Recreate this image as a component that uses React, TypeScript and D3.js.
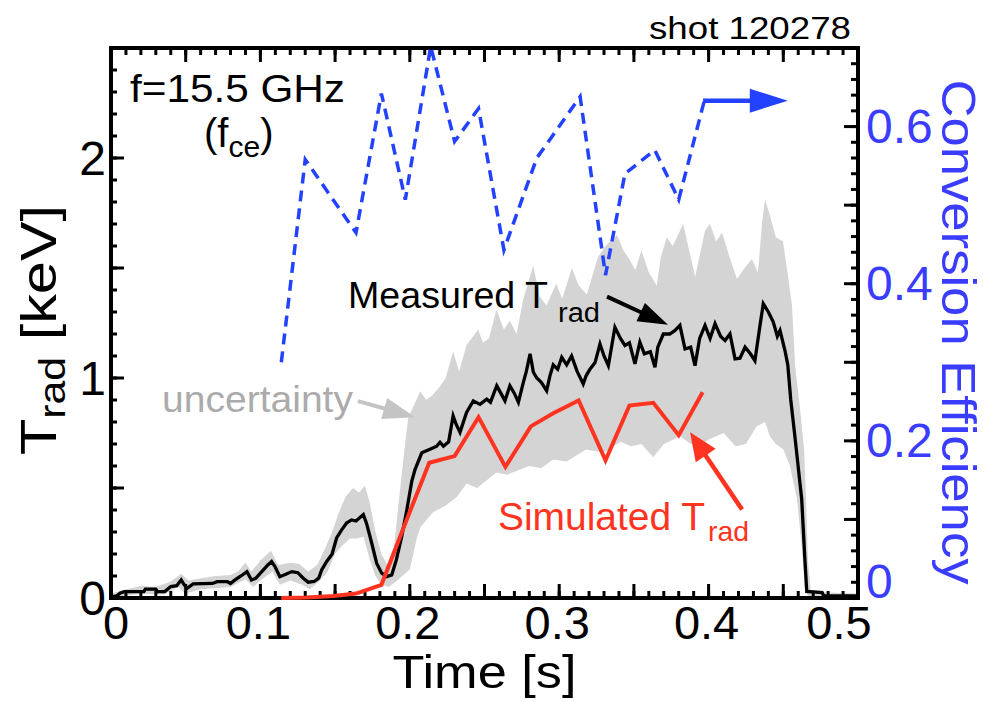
import React from "react";
import * as d3 from "d3";

// ---- data -----------------------------------------------------------------
// Measured radiation temperature T_rad [keV] vs time [s]
const measured: [number, number][] = [
  [0.0, 0.005], [0.004, 0.01], [0.006, 0.022], [0.009, 0.029], [0.022, 0.029],
  [0.023, 0.04], [0.03, 0.04], [0.031, 0.029], [0.036, 0.029], [0.04, 0.052],
  [0.044, 0.056], [0.047, 0.082], [0.049, 0.06], [0.051, 0.044], [0.055, 0.064],
  [0.068, 0.066], [0.071, 0.074], [0.078, 0.074], [0.08, 0.066], [0.083, 0.082],
  [0.087, 0.1], [0.091, 0.12], [0.094, 0.082], [0.097, 0.09], [0.102, 0.128],
  [0.105, 0.15], [0.1075, 0.166], [0.11, 0.14], [0.113, 0.097], [0.117, 0.108],
  [0.121, 0.12], [0.125, 0.115], [0.1287, 0.09], [0.132, 0.072], [0.136, 0.075],
  [0.139, 0.09], [0.141, 0.128], [0.1444, 0.166], [0.148, 0.2], [0.151, 0.273],
  [0.1544, 0.31], [0.1577, 0.341], [0.161, 0.355], [0.164, 0.35], [0.1689, 0.379],
  [0.171, 0.34], [0.1745, 0.25], [0.1778, 0.158], [0.1812, 0.113], [0.1845, 0.097],
  [0.1879, 0.105], [0.191, 0.174], [0.1946, 0.28], [0.198, 0.4], [0.2013, 0.53],
  [0.2035, 0.584], [0.208, 0.66], [0.2135, 0.676], [0.218, 0.69], [0.2202, 0.708],
  [0.2225, 0.69], [0.226, 0.71], [0.229, 0.828], [0.231, 0.79], [0.2336, 0.753],
  [0.238, 0.843], [0.2425, 0.896], [0.247, 0.88], [0.2515, 0.904], [0.254, 0.89],
  [0.2582, 0.965], [0.261, 0.93], [0.2637, 0.896], [0.267, 0.965], [0.27, 0.93],
  [0.2727, 0.89], [0.276, 0.98], [0.278, 1.03], [0.2805, 1.11], [0.2827, 1.026],
  [0.285, 1.0], [0.288, 0.98], [0.2916, 0.942], [0.2938, 1.01], [0.296, 1.06],
  [0.299, 1.04], [0.3017, 1.094], [0.305, 1.06], [0.3083, 1.1], [0.312, 1.03],
  [0.3161, 0.973], [0.318, 1.01], [0.3206, 1.04], [0.324, 1.07], [0.3273, 1.155],
  [0.33, 1.1], [0.3329, 1.056], [0.3373, 1.231], [0.341, 1.18], [0.344, 1.148],
  [0.347, 1.16], [0.3507, 1.064], [0.354, 1.163], [0.357, 1.11], [0.361, 1.12],
  [0.3641, 1.049], [0.366, 1.14], [0.3697, 1.2], [0.374, 1.2], [0.3775, 1.216],
  [0.3808, 1.239], [0.3842, 1.132], [0.388, 1.14], [0.3909, 1.056], [0.394, 1.18],
  [0.3976, 1.239], [0.401, 1.18], [0.4043, 1.247], [0.408, 1.19], [0.411, 1.17],
  [0.4143, 1.2], [0.4177, 1.087], [0.421, 1.09], [0.4244, 1.14], [0.428, 1.11],
  [0.431, 1.079], [0.4344, 1.239], [0.4366, 1.338], [0.44, 1.3], [0.4433, 1.254],
  [0.446, 1.19], [0.4478, 1.216], [0.4511, 1.125], [0.453, 1.06], [0.455, 0.9],
  [0.458, 0.72], [0.4623, 0.45], [0.4645, 0.17], [0.4657, 0.03], [0.476, 0.025],
  [0.477, 0.01], [0.5, 0.01],
];

// Upper edge of the uncertainty band [keV]
const bandUpper: [number, number][] = [
  [0.0, 0.02], [0.005, 0.03], [0.01, 0.04], [0.02, 0.055], [0.03, 0.05],
  [0.04, 0.075], [0.047, 0.11], [0.052, 0.08], [0.06, 0.09], [0.07, 0.1],
  [0.08, 0.105], [0.085, 0.12], [0.09, 0.16], [0.094, 0.12], [0.1, 0.17],
  [0.107, 0.215], [0.112, 0.15], [0.12, 0.16], [0.126, 0.155], [0.132, 0.12],
  [0.138, 0.15], [0.143, 0.22], [0.148, 0.3], [0.152, 0.38], [0.157, 0.46],
  [0.162, 0.5], [0.166, 0.48], [0.17, 0.51], [0.173, 0.44], [0.177, 0.3],
  [0.181, 0.2], [0.185, 0.15], [0.189, 0.2], [0.192, 0.4], [0.196, 0.65],
  [0.199, 0.82], [0.203, 0.88], [0.207, 0.94], [0.211, 0.9], [0.215, 0.92],
  [0.22, 0.96], [0.224, 1.0], [0.229, 1.12], [0.233, 1.03], [0.238, 1.15],
  [0.2458, 1.22], [0.249, 1.16], [0.253, 1.18], [0.258, 1.31], [0.263, 1.22],
  [0.267, 1.26], [0.2715, 1.2], [0.276, 1.36], [0.2826, 1.51], [0.287, 1.37],
  [0.2915, 1.33], [0.298, 1.43], [0.302, 1.36], [0.3085, 1.5], [0.313, 1.42],
  [0.3185, 1.38], [0.322, 1.46], [0.326, 1.55], [0.331, 1.6], [0.3387, 1.65],
  [0.343, 1.58], [0.347, 1.54], [0.351, 1.49], [0.355, 1.58], [0.36, 1.48],
  [0.3653, 1.42], [0.368, 1.55], [0.372, 1.64], [0.376, 1.6], [0.383, 1.7],
  [0.387, 1.58], [0.391, 1.46], [0.3976, 1.67], [0.401, 1.7], [0.405, 1.62],
  [0.409, 1.66], [0.414, 1.55], [0.419, 1.45], [0.424, 1.5], [0.429, 1.54],
  [0.433, 1.48], [0.436, 1.72], [0.4378, 1.81], [0.441, 1.74], [0.445, 1.64],
  [0.4498, 1.62], [0.453, 1.47], [0.4558, 1.33], [0.458, 1.05], [0.4612, 0.86],
  [0.4639, 0.68], [0.4652, 0.45], [0.4665, 0.17], [0.4685, 0.03], [0.48, 0.025],
  [0.5, 0.02],
];

// Lower edge of the uncertainty band [keV]
const bandLower: [number, number][] = [
  [0.0, 0.0], [0.01, 0.01], [0.02, 0.02], [0.035, 0.015], [0.045, 0.05],
  [0.05, 0.02], [0.06, 0.04], [0.08, 0.05], [0.09, 0.085], [0.095, 0.05],
  [0.102, 0.09], [0.108, 0.12], [0.113, 0.06], [0.12, 0.08], [0.128, 0.06],
  [0.133, 0.04], [0.14, 0.08], [0.145, 0.12], [0.15, 0.2], [0.155, 0.24],
  [0.16, 0.27], [0.165, 0.27], [0.169, 0.28], [0.173, 0.18], [0.177, 0.1],
  [0.181, 0.06], [0.186, 0.05], [0.19, 0.07], [0.195, 0.1], [0.2, 0.13],
  [0.203, 0.22], [0.205, 0.28], [0.207, 0.32], [0.2155, 0.39], [0.224, 0.42],
  [0.2316, 0.46], [0.238, 0.52], [0.245, 0.5], [0.258, 0.57], [0.265, 0.56],
  [0.28, 0.6], [0.288, 0.59], [0.296, 0.63], [0.305, 0.62], [0.318, 0.675],
  [0.33, 0.66], [0.341, 0.71], [0.348, 0.69], [0.355, 0.7], [0.363, 0.64],
  [0.37, 0.7], [0.381, 0.735], [0.388, 0.7], [0.394, 0.69], [0.4, 0.72],
  [0.41, 0.75], [0.418, 0.69], [0.425, 0.7], [0.432, 0.78], [0.4378, 0.8],
  [0.441, 0.735], [0.445, 0.7], [0.45, 0.675], [0.4545, 0.6], [0.4592, 0.45],
  [0.4625, 0.22], [0.4645, 0.04], [0.467, 0.005], [0.5, 0.0],
];

// Simulated T_rad [keV]
const simulated: [number, number][] = [
  [0.114, 0.0], [0.131, 0.002], [0.149, 0.009], [0.164, 0.02], [0.181, 0.06],
  [0.197, 0.34], [0.213, 0.615], [0.23, 0.645], [0.246, 0.822], [0.264, 0.596],
  [0.281, 0.78], [0.296, 0.84], [0.313, 0.898], [0.331, 0.626], [0.347, 0.875],
  [0.363, 0.887], [0.38, 0.74], [0.396, 0.935],
];

// Conversion efficiency (right axis)
const efficiency: [number, number][] = [
  [0.114, 0.3], [0.13, 0.558], [0.164, 0.465], [0.181, 0.642], [0.197, 0.507],
  [0.214, 0.702], [0.23, 0.581], [0.246, 0.623], [0.263, 0.443], [0.285, 0.56],
  [0.314, 0.638], [0.331, 0.411], [0.344, 0.54], [0.364, 0.57], [0.38, 0.507],
  [0.397, 0.632],
];

const xTickLabels = [0, 0.1, 0.2, 0.3, 0.4, 0.5];
const yLeftTickLabels = [0, 1, 2];
const yRightTickLabels = [0, 0.2, 0.4, 0.6];

// ---- layout ---------------------------------------------------------------
const W = 988;
const H = 702;
const L = 111;
const R = 858;
const T = 48;
const B = 598;
const FONT = "'Liberation Sans', Arial, Helvetica, sans-serif";
const BLUE = "#2242ff";
const BLUE_TEXT = "#3a3cff";
const RED = "#ff3420";
const GRAY_BAND = "#d4d4d4";

const x = d3.scaleLinear().domain([0, 0.5]).range([L, R]);
const y = d3.scaleLinear().domain([0, 2.5]).range([B, T]);
const yr = d3.scaleLinear().domain([0, 0.7]).range([B, T]);

function arrow(x1: number, y1: number, x2: number, y2: number, len: number, half: number) {
  const dx = x2 - x1;
  const dy = y2 - y1;
  const d = Math.hypot(dx, dy);
  const ux = dx / d;
  const uy = dy / d;
  const bx = x2 - ux * len;
  const by = y2 - uy * len;
  const px = -uy;
  const py = ux;
  return {
    shaft: [x1, y1, bx + ux * 2, by + uy * 2],
    head: `M${x2},${y2}L${bx + px * half},${by + py * half}L${bx - px * half},${by - py * half}Z`,
  };
}

function Arrow({ a, color, width }: { a: ReturnType<typeof arrow>; color: string; width: number }) {
  return (
    <g>
      <line x1={a.shaft[0]} y1={a.shaft[1]} x2={a.shaft[2]} y2={a.shaft[3]} stroke={color} strokeWidth={width} />
      <path d={a.head} fill={color} />
    </g>
  );
}

export default function App() {
  const lineL = d3
    .line<[number, number]>()
    .x((d) => x(d[0]))
    .y((d) => y(d[1]));
  const lineR = d3
    .line<[number, number]>()
    .x((d) => x(d[0]))
    .y((d) => yr(d[1]));

  const bandPath = lineL([...bandUpper, ...bandLower.slice().reverse()]) + "Z";

  const xMinor = x.ticks(50);
  const xMajor = x.ticks(10);
  const yMinor = y.ticks(25);
  const yMajor = y.ticks(5);
  const rMinor = yr.ticks(35);
  const rMajor = yr.ticks(7);

  const blackArrow = arrow(x(0.332), y(1.37), x(0.3728), y(1.242), 30, 10);
  const grayArrow = arrow(x(0.1653), y(0.895), x(0.2035), y(0.822), 32, 11);
  const redArrow = arrow(x(0.4224), y(0.402), x(0.3876), y(0.753), 28, 12);
  const blueArrow = arrow(x(0.3963), yr(0.633), x(0.453), yr(0.633), 38, 12);

  const fmt = (v: number) => (v === 0 ? "0" : String(+v.toFixed(2)));

  return (
    <svg
      width={W}
      height={H}
      viewBox={`0 0 ${W} ${H}`}
      style={{ position: "absolute", left: 0, top: 0, display: "block", background: "#fff" }}
      fontFamily={FONT}
    >
      <rect x={0} y={0} width={W} height={H} fill="#fff" />

      {/* uncertainty band */}
      <path d={bandPath} fill={GRAY_BAND} stroke="none" />

      {/* frame */}
      <rect x={L} y={T} width={R - L} height={B - T} fill="none" stroke="#000" strokeWidth={4} />

      {/* bottom & top ticks */}
      {xMinor.map((v) => (
        <g key={"xm" + v} stroke="#000" strokeWidth={3}>
          <line x1={x(v)} x2={x(v)} y1={B} y2={B - 7} />
          <line x1={x(v)} x2={x(v)} y1={T} y2={T + 7} />
        </g>
      ))}
      {xMajor.map((v) => (
        <g key={"xM" + v} stroke="#000" strokeWidth={3}>
          <line x1={x(v)} x2={x(v)} y1={B} y2={B - 14} />
          <line x1={x(v)} x2={x(v)} y1={T} y2={T + 14} />
        </g>
      ))}

      {/* left ticks */}
      {yMinor.map((v) => (
        <line key={"ym" + v} x1={L} x2={L + 6} y1={y(v)} y2={y(v)} stroke="#000" strokeWidth={3} />
      ))}
      {yMajor.map((v) => (
        <line key={"yM" + v} x1={L} x2={L + 13} y1={y(v)} y2={y(v)} stroke="#000" strokeWidth={3} />
      ))}

      {/* right ticks */}
      {rMinor.map((v) => (
        <line key={"rm" + v} x1={R} x2={R - 7} y1={yr(v)} y2={yr(v)} stroke="#000" strokeWidth={3} />
      ))}
      {rMajor.map((v) => (
        <line key={"rM" + v} x1={R} x2={R - 14} y1={yr(v)} y2={yr(v)} stroke="#000" strokeWidth={3} />
      ))}

      {/* measured trace */}
      <path d={lineL(measured) || ""} fill="none" stroke="#000" strokeWidth={3.3} />

      {/* simulated trace */}
      <path d={lineL(simulated) || ""} fill="none" stroke={RED} strokeWidth={4} />

      {/* conversion efficiency */}
      <path
        d={lineR(efficiency) || ""}
        fill="none"
        stroke={BLUE}
        strokeWidth={3.5}
        strokeDasharray="11 7"
      />

      {/* tick labels */}
      {xTickLabels.map((v, i) => (
        <text
          key={"xl" + v}
          x={x(v) + (i === 0 ? 5 : i === xTickLabels.length - 1 ? -19 : -2)}
          y={639}
          fontSize={47}
          textAnchor="middle"
          fill="#000"
        >
          {fmt(v)}
        </text>
      ))}
      {yLeftTickLabels.map((v) => (
        <text key={"yl" + v} x={106} y={y(v)} dy="0.36em" fontSize={48} textAnchor="end" fill="#000">
          {fmt(v)}
        </text>
      ))}
      {yRightTickLabels.map((v) => (
        <text
          key={"rl" + v}
          x={866}
          y={yr(v) + (v === 0 ? -17 : -1)}
          dy="0.36em"
          fontSize={48}
          textAnchor="start"
          fill={BLUE_TEXT}
        >
          {fmt(v)}
        </text>
      ))}

      {/* axis titles */}
      <text x={(L + R) / 2} y={688} fontSize={47} textAnchor="middle" fill="#000" textLength={184} lengthAdjust="spacingAndGlyphs">
        Time [s]
      </text>
      <text
        transform={`translate(56,330) rotate(-90)`}
        fontSize={50}
        textAnchor="middle"
        fill="#000"
        textLength={250}
        lengthAdjust="spacingAndGlyphs"
      >
        T
        <tspan fontSize={36} dy={9}>
          rad
        </tspan>
        <tspan dy={-9}> [keV]</tspan>
      </text>
      <text
        transform={`translate(942,332) rotate(90)`}
        fontSize={49}
        textAnchor="middle"
        fill={BLUE_TEXT}
        textLength={505}
        lengthAdjust="spacingAndGlyphs"
      >
        Conversion Efficiency
      </text>

      {/* header */}
      <text x={851} y={39} fontSize={31} textAnchor="end" fill="#000" textLength={202} lengthAdjust="spacingAndGlyphs">
        shot 120278
      </text>
      <text x={130} y={102} fontSize={39} fill="#000" textLength={215} lengthAdjust="spacingAndGlyphs">
        f=15.5 GHz
      </text>
      <text x={204} y={147} fontSize={40} fill="#000">
        (f
        <tspan fontSize={30} dy={10}>
          ce
        </tspan>
        <tspan dy={-10}>)</tspan>
      </text>

      {/* annotations */}
      <text x={348} y={308} fontSize={37} fill="#000" textLength={200} lengthAdjust="spacingAndGlyphs">
        Measured T
      </text>
      <text x={558} y={322} fontSize={27} fill="#000" textLength={42} lengthAdjust="spacingAndGlyphs">
        rad
      </text>
      <Arrow a={blackArrow} color="#000" width={4} />

      <text x={162} y={412} fontSize={37} fill="#ababab" textLength={191} lengthAdjust="spacingAndGlyphs">
        uncertainty
      </text>
      <Arrow a={grayArrow} color="#c4c4c4" width={4} />

      <text x={498} y={530} fontSize={38} fill={RED} textLength={207} lengthAdjust="spacingAndGlyphs">
        Simulated T
      </text>
      <text x={708} y={541} fontSize={28} fill={RED} textLength={41} lengthAdjust="spacingAndGlyphs">
        rad
      </text>
      <Arrow a={redArrow} color={RED} width={4.5} />

      <Arrow a={blueArrow} color={BLUE} width={4.5} />
    </svg>
  );
}
